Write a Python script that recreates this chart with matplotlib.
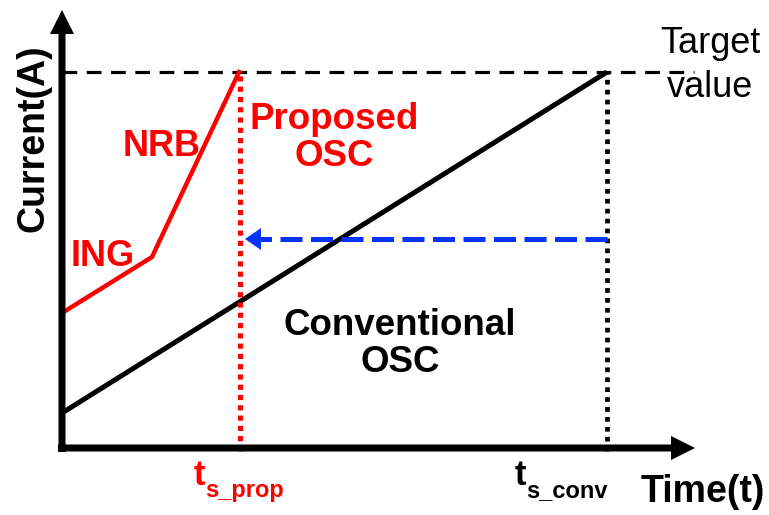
"""Schematic: conventional vs proposed OSC current ramp to target value."""

import matplotlib
matplotlib.use("Agg")
import matplotlib.pyplot as plt

plt.rcParams["font.family"] = ["Liberation Sans", "DejaVu Sans"]

# Schematic data (arbitrary units)
t_conv = [0, 545]
i_conv = [35, 376]
t_prop = [0, 90, 178]          # ING segment, then NRB segment
i_prop = [135, 191, 378]
target = 376
ts_prop = 178
ts_conv = 545
i_arrow = 209

RED = "#ff0000"
BLUE = "#0433ff"

fig = plt.figure(figsize=(7.69, 5.15), dpi=100)
ax = fig.add_axes([0, 0, 1, 1])
ax.set_xlim(-62, 707)
ax.set_ylim(-67, 448)
ax.axis("off")

# axes with arrow heads
ax.arrow(0, -4, 0, 442, width=7, head_width=24, head_length=24,
         length_includes_head=True, fc="k", ec="none", zorder=5)
ax.arrow(-4, 0, 637, 0, width=7, head_width=24, head_length=24,
         length_includes_head=True, fc="k", ec="none", zorder=5)

# target dashed line
ax.plot([0, 632], [target, target], color="k", lw=2.3,
        dashes=(4.6, 3.0), dash_capstyle="butt")

# curves
ax.plot(t_conv, i_conv, color="k", lw=3.6, solid_capstyle="butt", zorder=3)
ax.plot(t_prop, i_prop, color=RED, lw=3.2, solid_capstyle="butt",
        solid_joinstyle="miter", zorder=3)

# settling time markers
ax.plot([ts_prop, ts_prop], [-3, target], color=RED, lw=3.7,
        dashes=(1, 1), dash_capstyle="butt", zorder=4)
ax.plot([ts_conv, ts_conv], [-3, target], color="k", lw=3.4,
        dashes=(1, 1.1), dash_capstyle="butt", zorder=4)

# blue dashed arrow (conv -> prop)
ax.plot([ts_conv, ts_prop + 12], [i_arrow, i_arrow], color=BLUE, lw=3.6,
        dashes=(4.4, 1.7), dash_capstyle="butt", zorder=4)
ax.arrow(ts_prop + 20, i_arrow, -15, 0, width=0.1, head_width=22,
         head_length=16, length_includes_head=True, fc=BLUE, ec="none",
         zorder=4)

# labels
big = 26
ax.text(648, 395, "Target", fontsize=big, ha="center", va="baseline")
ax.text(648, 351, "value", fontsize=big, ha="center", va="baseline")
ax.text(272, 310, "Proposed\nOSC", fontsize=26.5, fontweight="bold",
        color=RED, ha="center", va="center", linespacing=1.1)
ax.text(100, 301, "NRB", fontsize=big, fontweight="bold", color=RED,
        ha="center", va="center")
ax.text(41, 192, "ING", fontsize=big, fontweight="bold", color=RED,
        ha="center", va="center")
ax.text(338, 104, "Conventional\nOSC", fontsize=26.5, fontweight="bold",
        ha="center", va="center", linespacing=1.1)
ax.text(-28, 310, "Current(A)", fontsize=27, fontweight="bold",
        rotation=90, ha="center", va="center")
ax.text(641, -44, "Time(t)", fontsize=27, fontweight="bold",
        ha="center", va="center")


def ts_label(x, sub, color):
    base = ax.text(x, -37, "t", fontsize=25, fontweight="bold", color=color,
                   ha="left", va="baseline")
    ax.annotate(sub, xy=(1, 0), xycoords=base, xytext=(0, -7),
                textcoords="offset points", fontsize=17, fontweight="bold",
                color=color, ha="left", va="bottom")


ts_label(132, "s_prop", RED)
ts_label(453, "s_conv", "k")

fig.savefig("out.png", dpi=100)
